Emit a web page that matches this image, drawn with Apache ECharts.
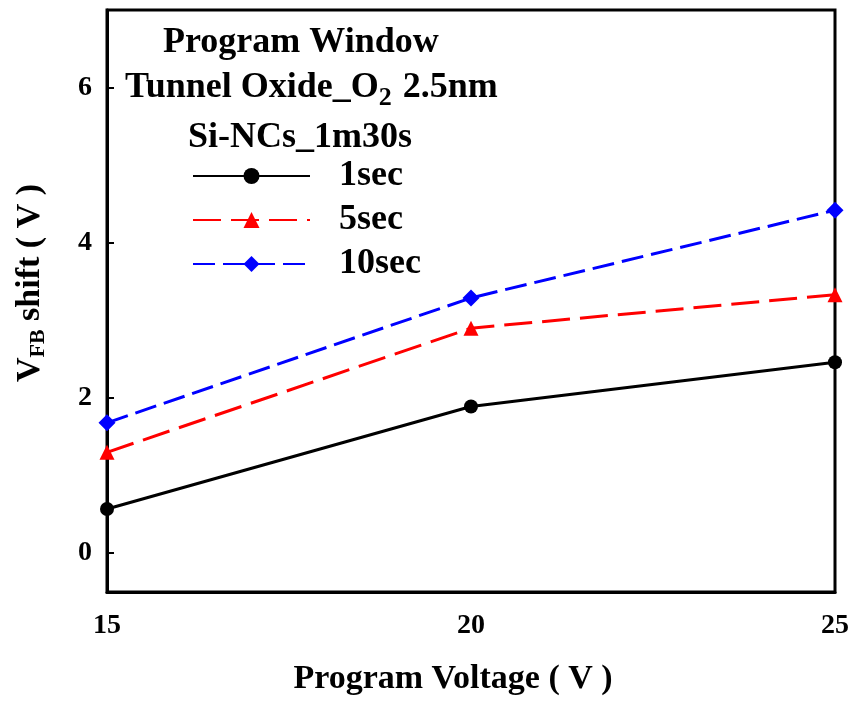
<!DOCTYPE html>
<html><head><meta charset="utf-8">
<script src="https://cdn.jsdelivr.net/npm/echarts@6/dist/echarts.min.js"></script>
<style>html,body{margin:0;padding:0;background:#fff}#c{width:853px;height:701px}</style>
</head><body><div id="c"></div>
<script>
const voltages = [15, 20, 25];
const s1sec = [0.57, 1.89, 2.46];
const s5sec = [1.30, 2.90, 3.33];
const s10sec = [1.68, 3.29, 4.42];
const seriesNames = ['1sec', '5sec', '10sec'];
const yTicks = [0, 2, 4, 6];

const FF = '"Liberation Serif","Times New Roman",serif';
const chart = echarts.init(document.getElementById('c'));
function pts(arr){ return voltages.map((v,i)=>[v, arr[i]]); }
const titleStyle = { fontFamily: FF, fontWeight: 'bold', fontSize: 36, color: '#000' };
chart.setOption({
  animation: false,
  backgroundColor: '#fff',
  grid: { left: 107, right: 18, top: 10, bottom: 109, show: true, borderColor: '#000', borderWidth: 3,
    containLabel: false, outerBoundsMode: 'none' },
  title: [
    { text: 'Program Window', left: 163, top: 25, padding: 0, textStyle: titleStyle },
    { text: 'Tunnel Oxide_O{sub|2} 2.5nm', left: 125, top: 65, padding: 0, textStyle: Object.assign({}, titleStyle, {
        rich: { sub: { fontFamily: FF, fontWeight: 'bold', fontSize: 26, color: '#000', verticalAlign: 'bottom', padding: [20,2,0,0] } } }) },
    { text: 'Si-NCs_1m30s', left: 188, top: 120, padding: 0, textStyle: titleStyle }
  ],
  legend: {
    orient: 'vertical', left: 192, top: 158, padding: 0, itemWidth: 117, itemHeight: 20, itemGap: 8,
    data: seriesNames,
    textStyle: { fontFamily: FF, fontWeight: 'bold', fontSize: 36, color: '#000', padding: [0,0,0,24] }
  },
  xAxis: {
    type: 'value', min: 15, max: 25, interval: 5,
    name: 'Program Voltage ( V )', nameLocation: 'middle', nameGap: 70,
    nameTextStyle: { fontFamily: FF, fontWeight: 'bold', fontSize: 34, color: '#000', padding: [0, 36, 0, 0] },
    axisLine: { show: true, onZero: false, lineStyle: { color: '#000', width: 3 } },
    axisTick: { show: false },
    splitLine: { show: false },
    axisLabel: { fontFamily: FF, fontWeight: 'bold', fontSize: 28, color: '#000', margin: 20 }
  },
  yAxis: {
    type: 'value', min: -0.5, max: 7,
    name: 'V{sub|FB} shift ( V )', nameLocation: 'middle', nameGap: 58, nameRotate: 90,
    nameTextStyle: { fontFamily: FF, fontWeight: 'bold', fontSize: 34, color: '#000', padding: [0, 0, 0, 36],
      rich: { sub: { fontFamily: FF, fontWeight: 'bold', fontSize: 22, color: '#000', verticalAlign: 'bottom', padding: [16,0,0,0] } } },
    axisLine: { show: true, onZero: false, lineStyle: { color: '#000', width: 3 } },
    axisTick: { show: true, inside: true, length: 7, lineStyle: { color: '#000', width: 2 },
      customValues: yTicks },
    axisLabel: { fontFamily: FF, fontWeight: 'bold', fontSize: 28, color: '#000', margin: 15,
      customValues: yTicks },
    splitLine: { show: false }
  },
  series: [
    { name: seriesNames[0], type: 'line', data: pts(s1sec), symbol: 'circle', symbolSize: 14,
      lineStyle: { color: '#000', width: 3, type: 'solid' }, itemStyle: { color: '#000' } },
    { name: seriesNames[1], type: 'line', data: pts(s5sec), symbol: 'triangle', symbolSize: 15,
      lineStyle: { color: '#ff0000', width: 3, type: [28, 10] }, itemStyle: { color: '#ff0000' } },
    { name: seriesNames[2], type: 'line', data: pts(s10sec), symbol: 'diamond', symbolSize: 17,
      lineStyle: { color: '#0000ff', width: 3, type: [22, 8] }, itemStyle: { color: '#0000ff' } }
  ]
});
</script></body></html>
